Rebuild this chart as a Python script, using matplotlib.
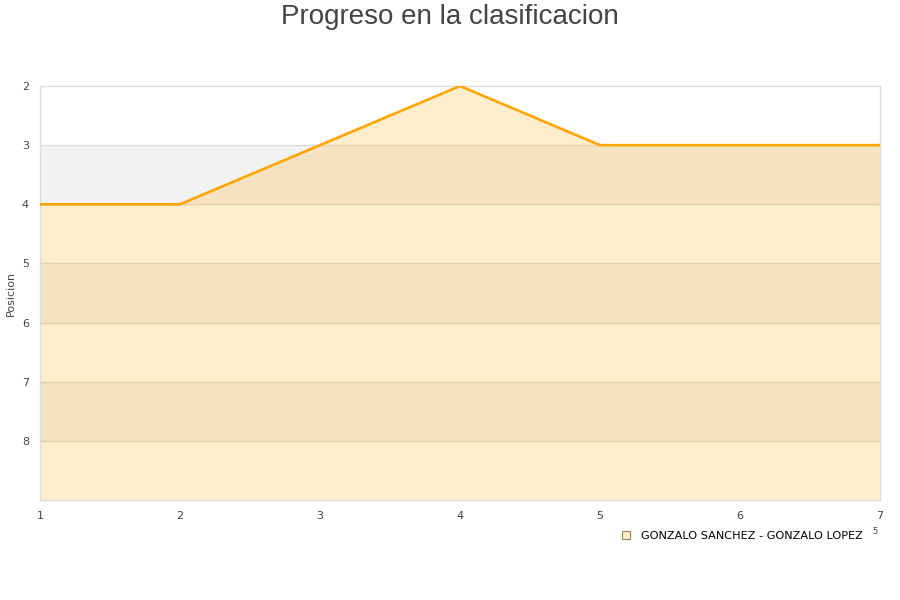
import matplotlib
matplotlib.use("Agg")
import matplotlib.pyplot as plt
from matplotlib.lines import Line2D

jornadas = [1, 2, 3, 4, 5, 6, 7]
posiciones = [4, 4, 3, 2, 3, 3, 3]
y_ticks = [2, 3, 4, 5, 6, 7, 8]
serie = "GONZALO SANCHEZ - GONZALO LOPEZ"
titulo = "Progreso en la clasificacion"
y_label = "Posicion"

fig = plt.figure(figsize=(9, 6), dpi=100)
ax = fig.add_axes([40/900, 1-500/600, 840/900, 414/600])

ax.set_xlim(1, 7)
ax.set_ylim(9, 2)

# alternating bands
for i, lo in enumerate(range(2, 9)):
    if i % 2 == 1:
        ax.axhspan(lo, lo + 1, color="#f2f2f2", zorder=0, lw=0)
for t in range(3, 9):
    ax.axhline(t, color="#dddddd", lw=1, zorder=1)

ax.fill_between(jornadas, posiciones, 9, color="#FFA500", alpha=0.2, lw=0, zorder=2)
ax.plot(jornadas, posiciones, color="#FFA500", lw=1.9, zorder=3)

ax.set_yticks(y_ticks)
ax.set_xticks(jornadas)
ax.tick_params(axis="both", length=0, labelsize=8, labelcolor="#444444")
ax.tick_params(axis="x", pad=8)
ax.tick_params(axis="y", pad=8)
for s in ax.spines.values():
    s.set_color("#dddddd")
    s.set_linewidth(1)

ax.set_ylabel(y_label, fontsize=8, color="#444444", labelpad=4)

fig.text(0.5, 1-17/600, titulo, ha="center", va="center", fontsize=20,
         color="#444444", family="Liberation Sans")

handle = Line2D([], [], marker="s", linestyle="none", markersize=6,
                markerfacecolor="#FFEDCC", markeredgecolor="#a08050", markeredgewidth=0.8)
leg = fig.legend([handle], [serie], loc="center left", bbox_to_anchor=(615/900, 1-536/600),
                 frameon=False, fontsize=8.1, handletextpad=0.3, borderaxespad=0, borderpad=0)
for t in leg.get_texts():
    t.set_color("#000000")
fig.text(875/900, 1-532/600, "5", fontsize=6, color="#444444", ha="center", va="center")

fig.savefig("out.png", dpi=100)
